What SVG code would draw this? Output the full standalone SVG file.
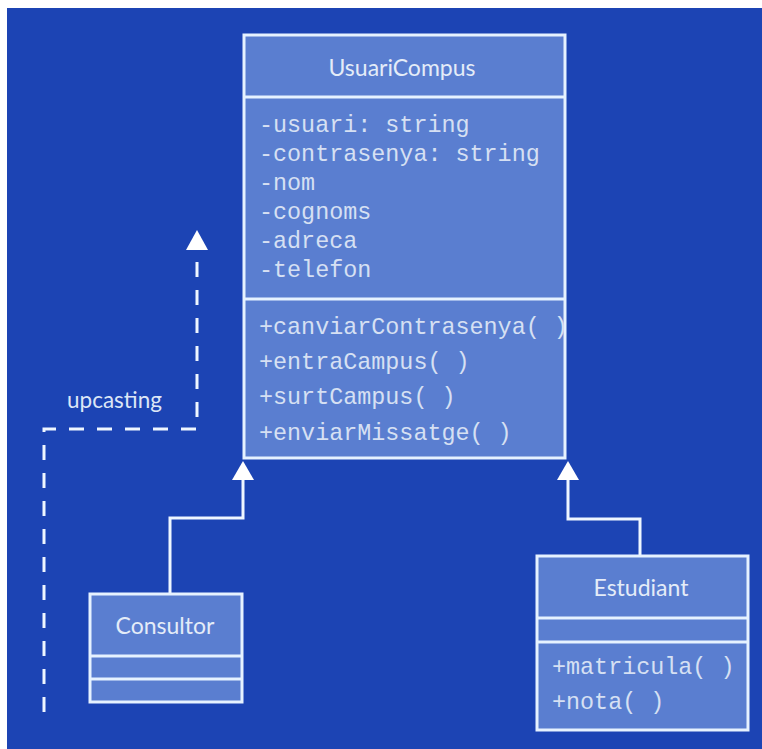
<svg xmlns="http://www.w3.org/2000/svg" width="762" height="749" viewBox="0 0 762 749">
<style>
.box{fill:#5a7ed0;stroke:#e6f2ff;stroke-width:3}
.div{stroke:#e6f2ff;stroke-width:3;fill:none}
.title{font-family:"Lato","Noto Sans",sans-serif;font-size:23px;fill:#e4ecf8;text-anchor:middle}
.mono{font-family:"Liberation Mono","DejaVu Sans Mono",monospace;font-size:23.4px;fill:#d6e0f3}
.line{stroke:#eef6ff;stroke-width:3;fill:none}
.dash{stroke:#eef6ff;stroke-width:3;fill:none;stroke-dasharray:15 13}
.head{fill:#ffffff}
.lbl{font-family:"Lato","Noto Sans",sans-serif;font-size:22.5px;fill:#dce6f6}
</style>
<rect x="7" y="8" width="755" height="741" fill="#1c44b4"/>
<g id="connectors">
<path class="line" d="M243,478 V518 H170 V593"/>
<polygon class="head" points="243,461 232,480 254,480"/>
<path class="line" d="M568,478 V519 H640 V556"/>
<polygon class="head" points="568,461 557,480 579,480"/>
<path class="dash" d="M44,712 V429 H197 V252"/>
<polygon class="head" points="197,230 186,250 208,250"/>
<text class="lbl" x="67" y="408">upcasting</text>
</g>
<g id="UsuariCompus">
<rect class="box" x="244" y="35" width="321" height="423"/>
<line class="div" x1="244" y1="97" x2="565" y2="97"/>
<line class="div" x1="244" y1="299" x2="565" y2="299"/>
<text class="title" x="402" y="76">UsuariCompus</text>
<text class="mono" x="259" y="132">-usuari: string</text>
<text class="mono" x="259" y="161">-contrasenya: string</text>
<text class="mono" x="259" y="190">-nom</text>
<text class="mono" x="259" y="219">-cognoms</text>
<text class="mono" x="259" y="248">-adreca</text>
<text class="mono" x="259" y="277">-telefon</text>
<text class="mono" x="259" y="334">+canviarContrasenya( )</text>
<text class="mono" x="259" y="369">+entraCampus( )</text>
<text class="mono" x="259" y="404">+surtCampus( )</text>
<text class="mono" x="259" y="440">+enviarMissatge( )</text>
</g>
<g id="Consultor">
<rect class="box" x="90" y="594" width="152" height="108"/>
<line class="div" x1="90" y1="656" x2="242" y2="656"/>
<line class="div" x1="90" y1="679" x2="242" y2="679"/>
<text class="title" x="165" y="634">Consultor</text>
</g>
<g id="Estudiant">
<rect class="box" x="537" y="556" width="211" height="174"/>
<line class="div" x1="537" y1="618" x2="748" y2="618"/>
<line class="div" x1="537" y1="642" x2="748" y2="642"/>
<text class="title" x="641" y="596">Estudiant</text>
<text class="mono" x="552" y="674">+matricula( )</text>
<text class="mono" x="552" y="709">+nota( )</text>
</g>
</svg>
